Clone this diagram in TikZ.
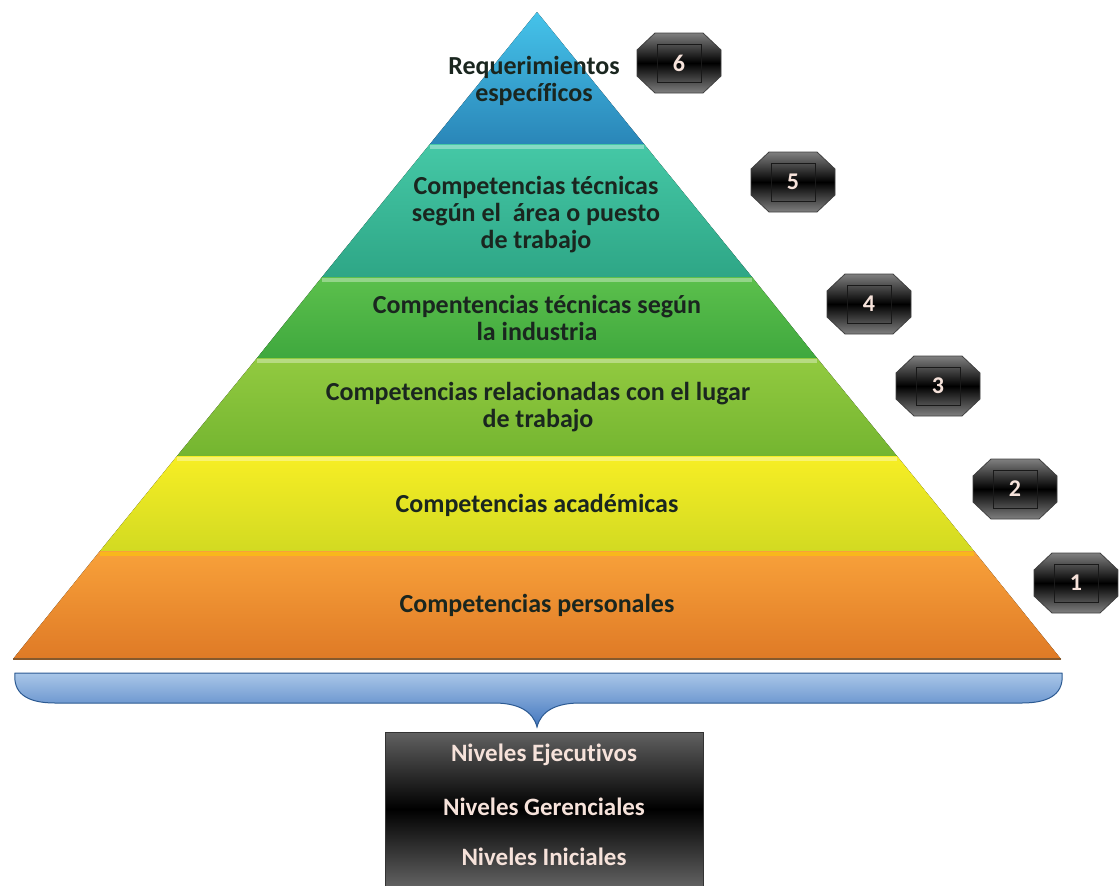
\documentclass[tikz,border=0pt]{standalone}
\usepackage{fontspec}
\setmainfont{Carlito}[Ligatures=NoCommon]
\usetikzlibrary{positioning}

\definecolor{azulA}{HTML}{45C3EA}
\definecolor{azulB}{HTML}{2A86B8}
\definecolor{tealA}{HTML}{45C8A6}
\definecolor{tealB}{HTML}{2EA686}
\definecolor{verdeA}{HTML}{5CC04C}
\definecolor{verdeB}{HTML}{3FA83E}
\definecolor{limaA}{HTML}{92CA40}
\definecolor{limaB}{HTML}{74B530}
\definecolor{amarA}{HTML}{F7EE24}
\definecolor{amarB}{HTML}{D2DA22}
\definecolor{narA}{HTML}{F8A13A}
\definecolor{narB}{HTML}{DF7A26}
\definecolor{llaveA}{HTML}{A9C6E8}
\definecolor{llaveB}{HTML}{4276BE}
\definecolor{llaveC}{HTML}{2C5A92}
\definecolor{textoosc}{HTML}{1A261F}
\definecolor{textoclaro}{HTML}{F6E2DA}

%% insignia octogonal con número: nombre, x, y, número
\newcommand{\insignia}[4]{%
  \begin{scope}[shift={(#2,#3)}]
    \shade[top color=black!50, bottom color=black!50, middle color=black,
           draw=black!75, line width=0.8pt]
      (-24,-30) -- (24,-30) -- (42,-13) -- (42,13) -- (24,30)
      -- (-24,30) -- (-42,13) -- (-42,-13) -- cycle;
    \draw[black!90, line width=0.8pt] (-22,-19) rectangle (22,19);
    \node[numero] (#1) at (0,0) {#4};
  \end{scope}}

\begin{document}
\begin{tikzpicture}[x=1pt, y=-1pt,
  etiqueta/.style={font=\fontsize{26}{27}\selectfont\bfseries, text=textoosc, align=center},
  nivel/.style={font=\fontsize{25}{26}\selectfont\bfseries, text=textoclaro},
  numero/.style={font=\fontsize{24}{25}\selectfont\bfseries, text=textoclaro},
  brillo/.style={white, opacity=0.35, line width=4pt}]
  \useasboundingbox (0,0) rectangle (1119,886);
  \clip (0,0) rectangle (1119,886);

  %% --- pirámide de competencias (de arriba hacia abajo) ---
  %% capa 6
  \fill[top color=azulA, bottom color=azulB] (537,12) -- (644,144) -- (430,144) -- cycle;
  %% capa 5
  \fill[top color=tealA, bottom color=tealB] (430,144) -- (644,144) -- (752,277) -- (322,277) -- cycle;
  \draw[brillo] (430,147) -- (644,147);
  %% capa 4
  \fill[top color=verdeA, bottom color=verdeB] (322,277) -- (752,277) -- (817,358) -- (257,358) -- cycle;
  \draw[brillo] (322,280) -- (752,280);
  %% capa 3
  \fill[top color=limaA, bottom color=limaB] (257,358) -- (817,358) -- (897,456) -- (177,456) -- cycle;
  \draw[brillo] (257,361) -- (817,361);
  %% capa 2
  \fill[top color=amarA, bottom color=amarB] (177,456) -- (897,456) -- (974,551) -- (100,551) -- cycle;
  \draw[brillo] (177,459) -- (897,459);
  %% capa 1
  \fill[top color=narA, bottom color=narB] (100,551) -- (974,551) -- (1061,659) -- (13,659) -- cycle;
  \draw[yellow!60!orange, opacity=0.6, line width=4pt] (100,554) -- (974,554);
  \draw[brown!70!black, line width=1.2pt] (13,659) -- (1061,659);

  %% textos de las capas
  \node[etiqueta] (requer) at (534,81) {Requerimientos\\específicos};
  \node[etiqueta] (tecarea) at (536,215) {Competencias técnicas\\según el \ área o puesto\\de trabajo};
  \node[etiqueta] (tecind) at (537,318) {Compentencias técnicas según\\la industria};
  \node[etiqueta] (lugar) at (538,407) {Competencias relacionadas con el lugar\\de trabajo};
  \node[etiqueta] (acad) at (537,505) {Competencias académicas};
  \node[etiqueta] (pers) at (537,605) {Competencias personales};

  %% insignias numeradas
  \insignia{n6}{679}{63}{6}
  \insignia{n5}{793}{182}{5}
  \insignia{n4}{869}{304}{4}
  \insignia{n3}{938}{386}{3}
  \insignia{n2}{1015}{489}{2}
  \insignia{n1}{1076}{583}{1}

  %% --- llave inferior ---
  \shade[top color=llaveA, bottom color=llaveB, draw=llaveC, line width=1pt]
    (15,673) -- (1062,673)
    .. controls (1064,692) and (1052,703) .. (1022,703) -- (580,703)
    .. controls (556,703) and (541,711) .. (537,727)
    .. controls (533,711) and (518,703) .. (494,703) -- (55,703)
    .. controls (25,703) and (13,692) .. (15,673) -- cycle;

  %% --- caja de niveles ---
  \shade[top color=black!62, bottom color=black!62, middle color=black, draw=black!80, line width=1pt]
    (385,732) rectangle (703,886);
  \node[nivel] (ejec) at (544,755) {Niveles Ejecutivos};
  \node[nivel] (geren) at (544,807) {Niveles Gerenciales};
  \node[nivel] (inic) at (544,857) {Niveles Iniciales};
\end{tikzpicture}
\end{document}
